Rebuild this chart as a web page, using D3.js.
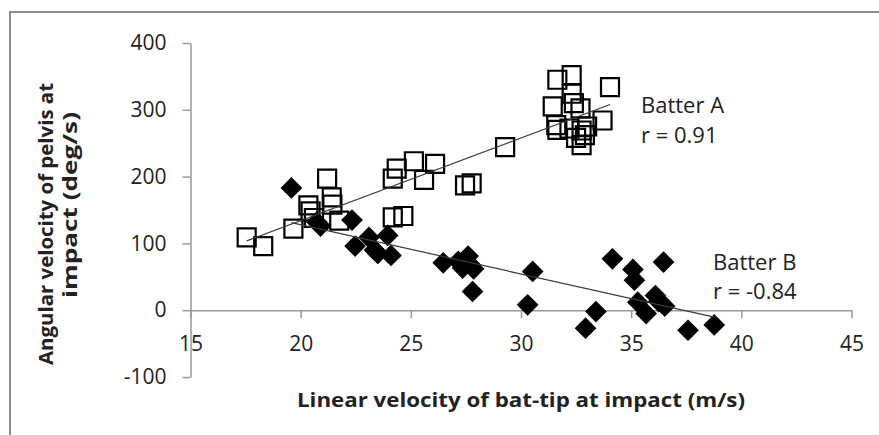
<!DOCTYPE html>
<html>
<head>
<meta charset="utf-8">
<script src="https://cdn.jsdelivr.net/npm/d3@7"></script>
<style>
body{margin:0;background:#fff;}
svg text{font-family:"Open Sans","Liberation Sans",sans-serif;fill:#222;}
</style>
</head>
<body>
<script>
//data (x = bat-tip velocity m/s, y = pelvis velocity deg/s)
var batterAx = [17.55,18.3,19.67,20.35,20.45,20.6,21.2,21.41,21.44,21.75,24.18,24.36,24.18,24.66,25.14,25.6,26.1,27.46,27.76,29.28,
    31.44,31.6,31.65,31.65,32.3,32.3,32.4,32.7,32.2,32.75,32.5,32.75,32.9,33.0,33.7,34.04];
var batterAy = [109,96,122,157,148,138,197,169,158,134,197,212,139,141,223,195,219,187,190,244,
    305,277,270,345,352,324,310,302,272,269,258,247,262,275,284,334];
var batterBx = [19.58,20.73,20.9,22.33,22.47,23.1,23.35,23.5,23.95,24.1,26.47,27.15,27.6,27.7,27.85,27.35,27.8,30.53,30.3,
    32.93,33.4,34.15,35.08,35.15,36.47,35.3,35.68,36.1,36.25,36.52,37.58,38.77];
var batterBy = [183,132,126,135,96,109,90,85,112,82,71,73,81,68,62,63,28,58,8,
    -27,-2,77,61,45,72,12,-5,22,13,6,-30,-22];
var xTicks = [15,20,25,30,35,40,45];
var yTicks = [-100,0,100,200,300,400];
var seriesNames = ["Batter A","Batter B"];
var rLabels = ["r = 0.91","r = -0.84"];
var xTitle = "Linear velocity of bat-tip at impact (m/s)";
var yTitleLines = ["Angular velocity of pelvis at","impact (deg/s)"];

//frame dimensions
var width = 879,
    height = 435,
    axisColor = "#9a9a9a";

var x = d3.scaleLinear()
    .domain([15,45])
    .range([190.5,851.5]);

var y = d3.scaleLinear()
    .domain([-100,400])
    .range([377,43]);

window.onload = drawChart();

function drawChart(){
    var svg = d3.select("body")
        .append("svg")
        .attr("width", width)
        .attr("height", height);

    //outer chart border (runs off the right and bottom)
    svg.append("rect")
        .attr("x", 10)
        .attr("y", 12)
        .attr("width", 920)
        .attr("height", 460)
        .attr("fill", "none")
        .attr("stroke", "#8c8c8c")
        .attr("stroke-width", 2);

    drawAxes(svg);

    //markers
    drawSquares(svg, batterAx, batterAy);
    drawDiamonds(svg, batterBx, batterBy);

    //trendlines
    drawTrend(svg, batterAx, batterAy);
    drawTrend(svg, batterBx, batterBy);

    drawLabels(svg);
}; //end of drawChart

function drawAxes(svg){
    //plain hyphen for negatives, like the original
    var fmt = function(d){ return String(d); };

    var xAxis = d3.axisBottom(x)
        .tickValues(xTicks)
        .tickSize(8)
        .tickSizeOuter(0)
        .tickPadding(18)
        .tickFormat(fmt);

    var yAxis = d3.axisLeft(y)
        .tickValues(yTicks)
        .tickSize(8)
        .tickSizeOuter(0)
        .tickPadding(16)
        .tickFormat(fmt);

    var gy = svg.append("g")
        .attr("class", "axis")
        .attr("transform", "translate(" + x(15) + ",0)")
        .call(yAxis);

    var gx = svg.append("g")
        .attr("class", "axis")
        .attr("transform", "translate(0," + y(0) + ")")
        .call(xAxis);

    svg.selectAll(".axis path, .axis line")
        .attr("stroke", axisColor)
        .attr("stroke-width", 1.5);
    svg.selectAll(".axis text")
        .attr("font-size", 21)
        .attr("font-family", "'Open Sans','Liberation Sans',sans-serif")
        .attr("fill", "#2a2a2a");

    //x axis title
    svg.append("text")
        .attr("x", 521)
        .attr("y", 407)
        .attr("text-anchor", "middle")
        .attr("font-size", 19)
        .attr("font-weight", "bold")
        .attr("textLength", 448)
        .attr("lengthAdjust", "spacingAndGlyphs")
        .text(xTitle);

    //y axis title, two lines
    var yPos = [[52.5,224,282],[77,205,186]];
    svg.selectAll(".yTitle")
        .data(yTitleLines)
        .enter()
        .append("text")
        .attr("class", "yTitle")
        .attr("transform", function(d,i){
            return "translate(" + yPos[i][0] + "," + yPos[i][1] + ") rotate(-90)";
        })
        .attr("text-anchor", "middle")
        .attr("font-size", 19)
        .attr("font-weight", "bold")
        .attr("textLength", function(d,i){ return yPos[i][2]; })
        .attr("lengthAdjust", "spacingAndGlyphs")
        .text(function(d){ return d; });
}; //end of drawAxes

function drawSquares(svg, xs, ys){
    var sq = d3.symbol().type(d3.symbolSquare).size(324);
    svg.append("g").selectAll("path")
        .data(xs)
        .enter()
        .append("path")
        .attr("d", sq)
        .attr("transform", function(d,i){
            return "translate(" + x(d) + "," + y(ys[i]) + ")";
        })
        .attr("fill", "none")
        .attr("stroke", "#000")
        .attr("stroke-width", 2.2);
}; //end of drawSquares

function drawDiamonds(svg, xs, ys){
    var dm = d3.symbol().type(d3.symbolSquare).size(236);
    svg.append("g").selectAll("path")
        .data(xs)
        .enter()
        .append("path")
        .attr("d", dm)
        .attr("transform", function(d,i){
            return "translate(" + x(d) + "," + y(ys[i]) + ") rotate(45)";
        })
        .attr("fill", "#000");
}; //end of drawDiamonds

//least squares fit, drawn over the range of the series
function drawTrend(svg, xs, ys){
    var mx = d3.mean(xs), my = d3.mean(ys);
    var sxy = d3.sum(xs, function(d,i){ return (d-mx)*(ys[i]-my); });
    var sxx = d3.sum(xs, function(d){ return (d-mx)*(d-mx); });
    var b = sxy/sxx, a = my - b*mx;
    var ext = d3.extent(xs);

    svg.append("line")
        .attr("x1", x(ext[0]))
        .attr("y1", y(a + b*ext[0]))
        .attr("x2", x(ext[1]))
        .attr("y2", y(a + b*ext[1]))
        .attr("stroke", "#3c3c3c")
        .attr("stroke-width", 1.2);
}; //end of drawTrend

function drawLabels(svg){
    var pos = [[641,112.5,142.5],[713,269.5,299]];
    seriesNames.forEach(function(name,i){
        svg.append("text")
            .attr("x", pos[i][0])
            .attr("y", pos[i][1])
            .attr("font-size", 22)
            .text(name);
        svg.append("text")
            .attr("x", pos[i][0])
            .attr("y", pos[i][2])
            .attr("font-size", 22)
            .text(rLabels[i]);
    });
}; //end of drawLabels
</script>
</body>
</html>
